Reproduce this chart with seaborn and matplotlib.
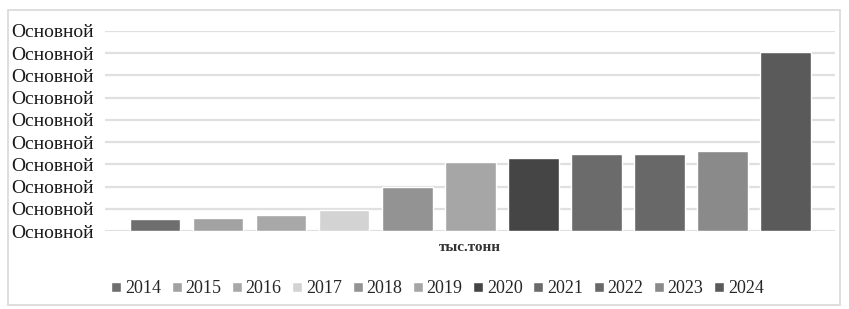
import matplotlib
matplotlib.use("Agg")
import matplotlib.pyplot as plt
import seaborn as sns
import pandas as pd
from matplotlib.patches import Rectangle

# данные (в делениях сетки)
years = ["2014", "2015", "2016", "2017", "2018", "2019",
         "2020", "2021", "2022", "2023", "2024"]
values = [0.54, 0.59, 0.72, 0.95, 1.97, 3.12, 3.29, 3.45, 3.48, 3.60, 8.06]
colors = ["#6e6e6e", "#a2a2a2", "#a8a8a8", "#d3d3d3", "#939393", "#a6a6a6",
          "#454545", "#6b6b6b", "#686868", "#8a8a8a", "#5a5a5a"]
category = "тыс.тонн"
ytick_label = "Основной"

df = pd.DataFrame({"cat": [category] * len(years), "year": years, "val": values})

sns.set_style("white")
plt.rcParams["font.family"] = ["Liberation Serif", "DejaVu Serif"]

fig = plt.figure(figsize=(8.49, 3.09), dpi=100)
ax = fig.add_axes([0.124, 0.252, 0.86, 0.648])

sns.barplot(data=df, x="cat", y="val", hue="year", palette=colors,
            width=0.95, gap=0.2, ax=ax, legend=True, saturation=1)

ax.set_ylim(0, 9)
ax.set_xlim(-0.5, 0.5)
ax.set_yticks(range(10))
ax.set_yticklabels([ytick_label] * 10, fontsize=14, color="#1a1a1a")
ax.tick_params(axis="y", length=0, pad=8)
ax.tick_params(axis="x", length=0, pad=7)
for t in ax.get_xticklabels():
    t.set_fontsize(11)
    t.set_fontweight("bold")
    t.set_color("#333333")
ax.set_xlabel("")
ax.set_ylabel("")
ax.grid(axis="y", color="#e0e0e0", linewidth=1.6)
ax.set_axisbelow(True)
sns.despine(ax=ax, left=True, bottom=True, top=True, right=True)

# легенда снизу, немного левее центра оси
handles, labels = ax.get_legend_handles_labels()
ax.legend(handles, labels, loc="upper center", bbox_to_anchor=(0.455, -0.165),
          ncol=11, frameon=False, fontsize=13, handlelength=0.55,
          handleheight=0.55, handletextpad=0.2, columnspacing=0.6)

fig.patches.append(Rectangle((8 / 849, 4 / 309), 832 / 849, 295 / 309,
                             transform=fig.transFigure, fill=False,
                             edgecolor="#d8d8d8", linewidth=1.2))

fig.savefig("out.png", dpi=100)
